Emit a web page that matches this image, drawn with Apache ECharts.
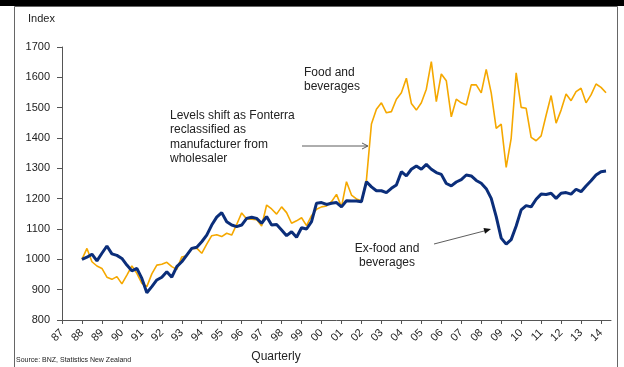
<!DOCTYPE html>
<html><head><meta charset="utf-8">
<script src="https://cdn.jsdelivr.net/npm/echarts@6/dist/echarts.min.js"></script>
<style>html,body{margin:0;padding:0;background:#fff}#c{width:624px;height:367px}</style>
</head><body><div id="c"></div>
<script>
// Quarterly series, first point 1988 Q1
const startYear = 1988;
const foodBeverages = [1000,1036,992,978,970,941,934,943,919,948,
 978,954,921,910,952,981,984,990,976,967,
 1008,1012,1036,1037,1020,1050,1078,1081,1075,1086,
 1080,1115,1153,1133,1132,1131,1110,1179,1166,1149,
 1173,1154,1119,1127,1137,1111,1144,1165,1173,1176,
 1190,1214,1173,1256,1212,1199,1193,1262,1446,1495,
 1516,1483,1487,1528,1549,1597,1514,1492,1516,1561,
 1652,1520,1611,1589,1470,1528,1516,1509,1575,1575,
 1549,1626,1549,1432,1446,1303,1399,1615,1501,1498,
 1402,1391,1407,1475,1540,1449,1492,1545,1523,1553,
 1564,1516,1542,1578,1567,1549];
const exFoodBeverages = [1000,1007,1017,995,1020,1044,1018,1013,1003,981,
 962,970,937,890,910,932,941,959,941,976,
 992,1014,1036,1040,1058,1080,1113,1139,1154,1124,
 1113,1108,1113,1135,1139,1135,1119,1141,1113,1115,
 1097,1078,1091,1073,1104,1100,1124,1185,1187,1181,
 1185,1187,1173,1193,1192,1192,1190,1256,1239,1226,
 1226,1220,1234,1245,1289,1275,1297,1308,1297,1313,
 1297,1286,1280,1250,1242,1255,1263,1278,1275,1260,
 1251,1233,1201,1141,1070,1050,1065,1110,1163,1177,
 1173,1198,1215,1214,1218,1201,1218,1220,1215,1231,
 1223,1242,1259,1278,1289,1291];
const xTickLabels = ['87','88','89','90','91','92','93','94','95','96','97','98','99','00','01','02','03','04','05','06','07','08','09','10','11','12','13','14'];
const firstTickYear = 1987;
const yMin = 800, yMax = 1700, yStep = 100;

const tickYears = xTickLabels.map((_, i) => firstTickYear + i);
const toPairs = arr => arr.map((v, i) => [startYear + i / 4, v]);
const FONT = 'Liberation Sans, Arial, sans-serif';

const chart = echarts.init(document.getElementById('c'), null, {renderer: 'canvas'});
chart.setOption({
  animation: false,
  backgroundColor: '#fff',
  grid: {left: 62, right: 13, top: 47, bottom: 47, containLabel: false},
  xAxis: {
    type: 'value', min: firstTickYear, max: 2014.5, interval: 1,
    axisLine: {show: true, lineStyle: {color: '#555', width: 1}},
    axisTick: {show: true, length: 4, lineStyle: {color: '#555'}, customValues: tickYears},
    axisLabel: {customValues: tickYears, rotate: 45, margin: 11, fontSize: 11, fontFamily: FONT, color: '#222',
      formatter: v => xTickLabels[Math.round(v - firstTickYear)] || ''},
    splitLine: {show: false}
  },
  yAxis: {
    type: 'value', min: yMin, max: yMax, interval: yStep,
    axisLine: {show: true, lineStyle: {color: '#555', width: 1}},
    axisTick: {show: true, length: 5, lineStyle: {color: '#555'}},
    axisLabel: {margin: 12, fontSize: 11, fontFamily: FONT, color: '#222', formatter: v => String(v)},
    splitLine: {show: false}
  },
  series: [
    {name: 'Food and beverages', type: 'line', data: toPairs(foodBeverages), showSymbol: false,
      lineStyle: {color: '#F5A800', width: 1.6}, z: 2},
    {name: 'Ex-food and beverages', type: 'line', data: toPairs(exFoodBeverages), showSymbol: false,
      lineStyle: {color: '#0B2E7A', width: 3}, z: 3}
  ],
  graphic: [
    {type: 'rect', shape: {x: 0, y: 0, width: 624, height: 6}, style: {fill: '#000'}, silent: true},
    {type: 'rect', shape: {x: 14.5, y: 6.5, width: 603, height: 370}, style: {fill: 'none', stroke: '#666', lineWidth: 1}, silent: true},
    {type: 'text', x: 28, y: 13, style: {text: 'Index', font: '11px ' + FONT, fill: '#222'}},
    {type: 'text', x: 276, y: 351, style: {text: 'Quarterly', font: '12px ' + FONT, fill: '#222', align: 'center'}},
    {type: 'text', x: 16, y: 357, style: {text: 'Source: BNZ, Statistics New Zealand', font: '7px ' + FONT, fill: '#222'}},
    {type: 'text', x: 304, y: 66, style: {text: 'Food and\nbeverages', font: '12px ' + FONT, fill: '#222', lineHeight: 14}},
    {type: 'text', x: 170, y: 108, style: {text: 'Levels shift as Fonterra\nreclassified as\nmanufacturer from\nwholesaler', font: '12px ' + FONT, fill: '#222', lineHeight: 14.5}},
    {type: 'text', x: 387, y: 242, style: {text: 'Ex-food and\nbeverages', font: '12px ' + FONT, fill: '#222', lineHeight: 14, align: 'center'}},
    {type: 'line', shape: {x1: 302, y1: 146, x2: 367, y2: 146}, style: {stroke: '#333', lineWidth: 0.8}},
    {type: 'polyline', shape: {points: [[362, 143], [368, 146], [362, 149]]}, style: {stroke: '#333', lineWidth: 0.8, fill: 'none'}},
    {type: 'line', shape: {x1: 434, y1: 244, x2: 486, y2: 230.5}, style: {stroke: '#333', lineWidth: 0.8}},
    {type: 'polygon', shape: {points: [[491, 229], [485, 233.7], [483.5, 227.9]]}, style: {fill: '#111'}}
  ]
});
</script></body></html>
